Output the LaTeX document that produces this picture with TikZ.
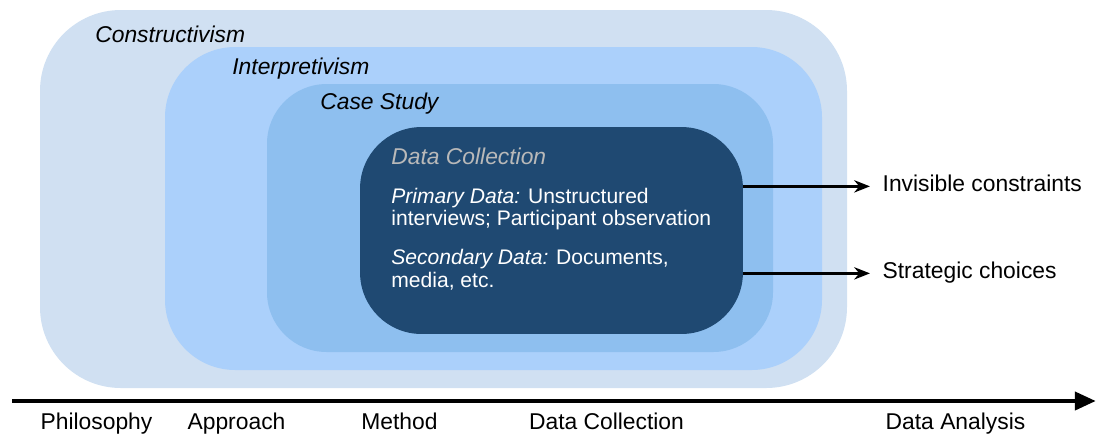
\documentclass[tikz,border=0pt]{standalone}
\usepackage{fontspec}
\setmainfont{Liberation Sans}
\usepackage{tikz}
\usetikzlibrary{arrows.meta,positioning,calc}

\definecolor{philofill}{RGB}{208,224,242}
\definecolor{approachfill}{RGB}{171,208,251}
\definecolor{methodfill}{RGB}{142,191,239}
\definecolor{datafill}{RGB}{31,73,114}
\definecolor{headgrey}{RGB}{185,185,185}

\tikzset{
  layerlabel/.style={anchor=west, inner sep=0pt, font=\fontsize{13}{15}\selectfont\itshape},
  datatext/.style={anchor=west, align=left, inner sep=0pt, text=white, font=\fontsize{12}{12.8}\selectfont},
  sidelabel/.style={anchor=base west, inner sep=7pt, font=\fontsize{13}{15}\selectfont},
  stagelabel/.style={anchor=base, font=\fontsize{13}{15}\selectfont},
  conn/.style={line width=1.8pt, -{Stealth[length=9pt,width=7pt]}},
}

\begin{document}
\begin{tikzpicture}[x=0.02cm,y=-0.02cm]
  \useasboundingbox (0,0) rectangle (1096,434);
  % nested research layers, outermost first
  \fill[philofill, rounded corners=46pt] (40,10) rectangle (847,388);
  \fill[approachfill, rounded corners=40pt] (165,47) rectangle (822,370);
  \fill[methodfill, rounded corners=34pt] (267,84) rectangle (773,352);
  \node[fill=datafill, rounded corners=35pt, minimum width=7.66cm, minimum height=4.14cm] (dc) at (551.5,230.5) {};

  \node[layerlabel] (constr) at (95,34) {Constructivism};
  \node[layerlabel] (interp) at (232,69) {Interpretivism};
  \node[layerlabel] (casest) at (320,104) {Case Study};
  \node[layerlabel, text=headgrey] (dchead) at (391,156) {Data Collection};
  \node[datatext] (primary) at (391,209) {\textit{Primary Data:} Unstructured\\interviews; Participant observation};
  \node[datatext] (secondary) at (391,269.5) {\textit{Secondary Data:} Documents,\\media, etc.};

  % outcomes
  \node[sidelabel] (inv) at (870,191) {Invisible constraints};
  \node[sidelabel] (strat) at (870,278) {Strategic choices};
  \draw[conn] (dc.east |- inv.mid west) -- (inv.mid west);
  \draw[conn] (dc.east |- strat.mid west) -- (strat.mid west);

  % timeline
  \coordinate (axstart) at (12,401);
  \coordinate (axend) at (1096,401);
  \draw[line width=2.8pt, -{Triangle[length=12pt,width=10pt]}] (axstart) -- (axend);
  \node[stagelabel] (philo) at (96.5,429) {Philosophy};
  \node[stagelabel] (appr) at (236.5,429) {Approach};
  \node[stagelabel] (meth) at (399.5,429) {Method};
  \node[stagelabel] (coll) at (606.5,429) {Data Collection};
  \node[stagelabel] (anal) at (955.5,429) {Data Analysis};
\end{tikzpicture}
\end{document}
